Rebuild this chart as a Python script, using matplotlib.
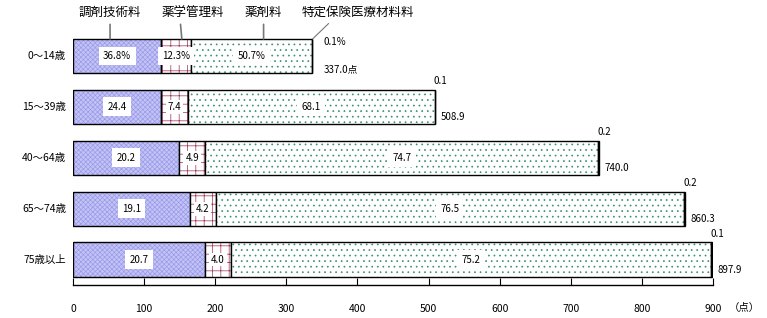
import matplotlib
matplotlib.use("Agg")
import matplotlib.pyplot as plt

plt.rcParams["font.family"] = ["Noto Sans CJK JP", "DejaVu Sans"]
plt.rcParams["hatch.linewidth"] = 0.5

ages = ["0～14歳", "15～39歳", "40～64歳", "65～74歳", "75歳以上"]
totals = [337.0, 508.9, 740.0, 860.3, 897.9]
# 調剤技術料, 薬学管理料, 薬剤料, 特定保険医療材料料 (%)
shares = [
    [36.8, 12.3, 50.7, 0.1],
    [24.4, 7.4, 68.1, 0.1],
    [20.2, 4.9, 74.7, 0.2],
    [19.1, 4.2, 76.5, 0.2],
    [20.7, 4.0, 75.2, 0.1],
]
components = ["調剤技術料", "薬学管理料", "薬剤料", "特定保険医療材料料"]

faces = ["#c4c4f4", "white", "white", "black"]
hatch_colors = ["#9a9aec", "#a0305a", "#3a9070", "black"]
hatches = ["xxxxxxx", "++", "...", None]

fig = plt.figure(figsize=(7.67, 3.18), dpi=100)
ax = fig.add_axes([0.0952, 0.1038, 0.8344, 0.8003])

bar_h = 0.67

for i, (tot, sh) in enumerate(zip(totals, shares)):
    left = 0
    for j, p in enumerate(sh):
        w = tot * p / 100
        ax.barh(i, w, left=left, height=bar_h, color=faces[j],
                hatch=hatches[j], edgecolor=hatch_colors[j], linewidth=0)
        ax.barh(i, w, left=left, height=bar_h, fill=False,
                edgecolor="black", linewidth=1.0)
        if j < 3:
            txt = f"{p:.1f}%" if i == 0 else f"{p:.1f}"
            pad = 0.45 if p > 10 else 0.2
            ax.text(left + w / 2, i, txt, ha="center", va="center",
                    fontsize=7, zorder=5,
                    bbox=dict(boxstyle=f"square,pad={pad}", fc="white", ec="none"))
        left += w
    small = f"{sh[3]:.1f}%" if i == 0 else f"{sh[3]:.1f}"
    tot_txt = f"{tot:.1f}点" if i == 0 else f"{tot:.1f}"
    if i == 0:
        ax.text(tot + 15, i - 0.27, small, ha="left", va="center", fontsize=7)
        ax.text(tot + 15, i + 0.27, tot_txt, ha="left", va="center", fontsize=7)
    else:
        ax.text(tot - 2, i - 0.5, small, ha="left", va="center", fontsize=7)
        ax.text(tot + 8, i + 0.2, tot_txt, ha="left", va="center", fontsize=7)
    ax.text(-10, i, ages[i], ha="right", va="center", fontsize=7.5)

# component headers with leader lines over the first bar
tot0 = totals[0]
seg = [tot0 * p / 100 for p in shares[0]]
xs = [seg[0] * 0.42, seg[0] + seg[1] * 0.7, seg[0] + seg[1] + seg[2] * 0.6]
rel = [0.5, 0.3, 0.5]
for name, x, r in zip(components[:3], xs, rel):
    dx = 0 if r == 0.5 else 15
    ax.annotate(name, xy=(x, -bar_h / 2), xytext=(x + dx, -0.73),
                ha="center", va="bottom", fontsize=9,
                arrowprops=dict(arrowstyle="-", color="#777777", lw=1.2,
                                shrinkA=2, shrinkB=0, relpos=(r, 0)))
ax.annotate(components[3], xy=(tot0, -bar_h / 2), xytext=(tot0 - 15, -0.73),
            ha="left", va="bottom", fontsize=9,
            arrowprops=dict(arrowstyle="-", color="#777777", lw=0.8,
                            shrinkA=2, shrinkB=0, relpos=(0.28, 0)))

ax.set_xlim(0, 900)
ax.set_ylim(4.5, -0.5)
ax.set_xticks(range(0, 901, 100))
ax.set_yticks([])
for s in ["top", "right", "left"]:
    ax.spines[s].set_visible(False)
ax.spines["bottom"].set_linewidth(1.0)
ax.tick_params(axis="x", direction="in", length=5, pad=14, labelsize=7.5)
ax.text(1.025, -0.09, "（点）", transform=ax.transAxes, ha="left",
        va="center", fontsize=7.5)

fig.savefig("out.png", dpi=100)
